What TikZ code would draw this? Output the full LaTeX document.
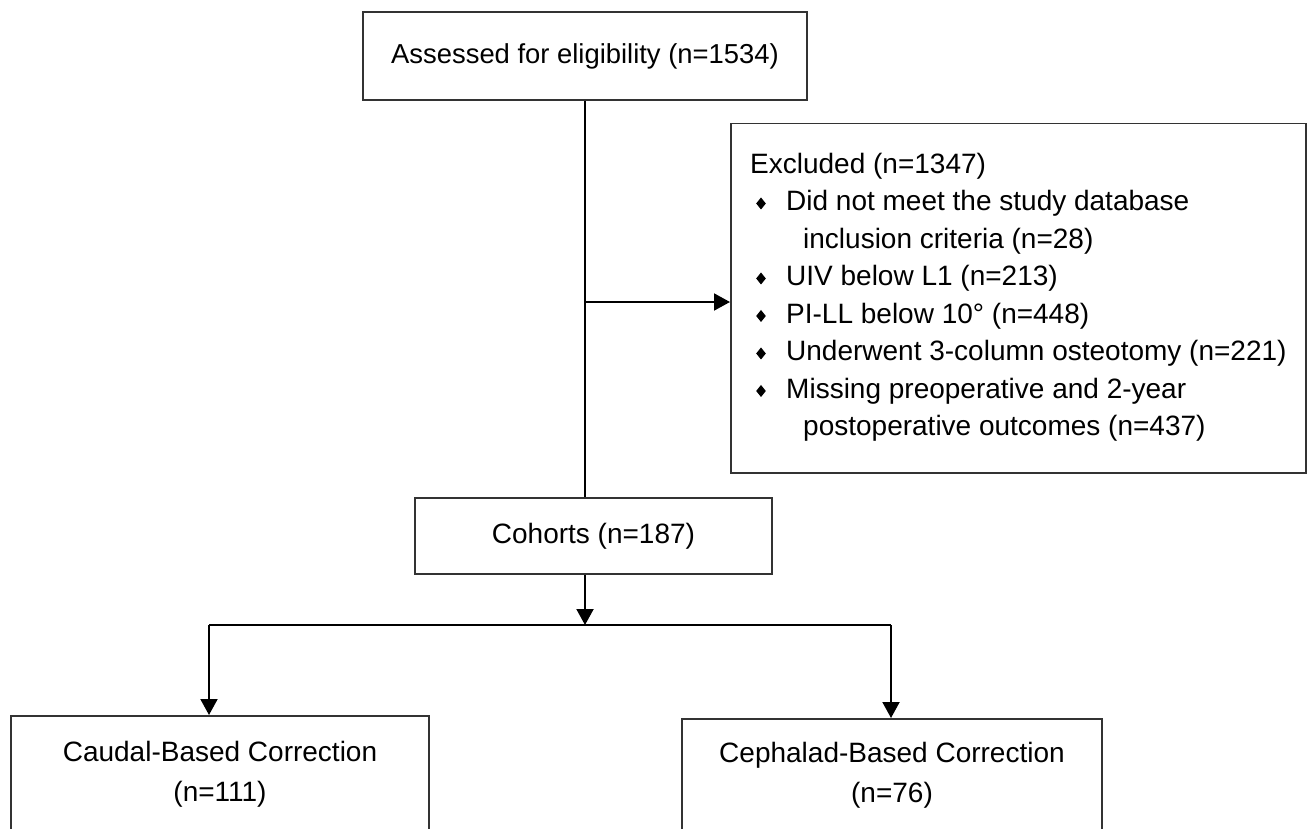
\documentclass[tikz,border=0pt]{standalone}
\usepackage{fontspec}
\setmainfont{Liberation Sans}
\usetikzlibrary{arrows.meta}
\newcommand{\bul}{\makebox[36pt][l]{\hspace*{6pt}\raisebox{1.5pt}{\scalebox{1}[1.25]{\rotatebox{45}{\rule{6.8pt}{6.8pt}}}}}}
\tikzset{
  flowbox/.style={draw=black!80, line width=1.5pt, fill=white, inner sep=0pt, align=center,
    font=\fontsize{28}{40}\selectfont},
  conn/.style={line width=2pt, black},
  arr/.style={conn, -{Triangle[length=16pt,width=17pt]}},
}
\begin{document}
\begin{tikzpicture}[x=1pt,y=-1pt]
\useasboundingbox (0,0) rectangle (1309,829);
\clip (0,0) rectangle (1309,829);
\fill[white] (0,0) rectangle (1309,829);

\node[flowbox, minimum width=444pt, minimum height=88pt, font=\fontsize{27.4}{36}\selectfont] (top) at (585,56) {Assessed for eligibility (n=1534)};
\node[flowbox, minimum width=575pt, minimum height=349pt, anchor=north west] (excl) at (730,123) {};
\node[anchor=north west, inner sep=0pt, align=left, font=\fontsize{28}{37.5}\selectfont] (excltext) at (750,153)
{Excluded (n=1347)\\
\bul Did not meet the study database\\
\hspace*{53pt}inclusion criteria (n=28)\\
\bul UIV below L1 (n=213)\\
\bul PI-LL below 10\textdegree{} (n=448)\\
\bul Underwent 3-column osteotomy (n=221)\\
\bul Missing preoperative and 2-year\\
\hspace*{53pt}postoperative outcomes (n=437)};
\node[flowbox, minimum width=357pt, minimum height=76pt] (cohorts) at (593.5,536) {Cohorts (n=187)};
\node[flowbox, minimum width=418pt, minimum height=116pt, anchor=north] (caudal) at (220,715) {Caudal-Based Correction\\(n=111)};
\node[flowbox, minimum width=420pt, minimum height=112pt, anchor=north] (ceph) at (892,718) {Cephalad-Based Correction\\(n=76)};

\coordinate (br) at (585,302);
\coordinate (split) at (585,625);
\coordinate (sl) at (209,625);
\coordinate (sr) at (891,625);

\draw[conn] (top.south) -- (top.south |- cohorts.north);
\draw[arr] (br) -- (br -| excl.west);
\draw[arr] (split |- cohorts.south) -- (split);
\draw[conn] (sl) -- (sr);
\draw[arr] (sl) -- (sl |- caudal.north);
\draw[arr] (sr) -- (sr |- ceph.north);
\end{tikzpicture}
\end{document}
